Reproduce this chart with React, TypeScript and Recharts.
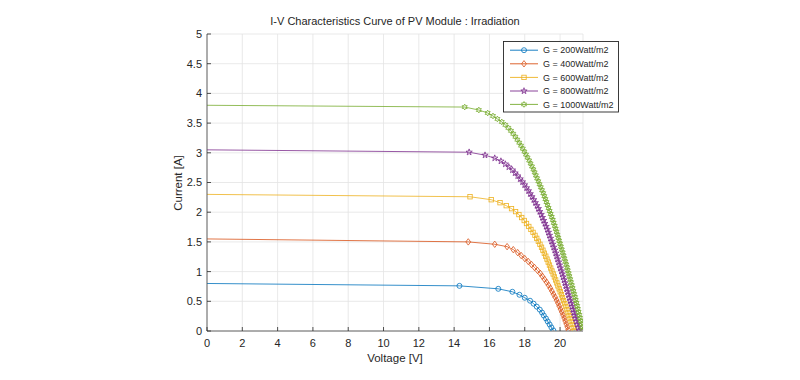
import React from 'react';
import { LineChart, Line, XAxis, YAxis, CartesianGrid, Legend, Customized } from 'recharts';

const FONT = '"Liberation Sans", Arial, Helvetica, sans-serif';
const TXT = '#262626';

const seriesNames = ['G = 200Watt/m2', 'G = 400Watt/m2', 'G = 600Watt/m2', 'G = 800Watt/m2', 'G = 1000Watt/m2'];
const seriesColors = ['#0072BD', '#D95319', '#EDB120', '#7E2F8E', '#77AC30'];
const seriesMarkers = ['circle', 'diamond', 'square', 'pentagram', 'hexagram'];

const xTicks = [0, 2, 4, 6, 8, 10, 12, 14, 16, 18, 20];
const yTicks = [0, 0.5, 1, 1.5, 2, 2.5, 3, 3.5, 4, 4.5, 5];
const titleText = 'I-V Characteristics Curve of PV Module : Irradiation';
const xLabel = 'Voltage [V]';
const yLabel = 'Current [A]';

// G = 200
const v200 = [0, 14.3, 16.5, 17.3, 17.7, 18.0, 18.3, 18.5, 18.68, 18.85, 18.98, 19.08, 19.2, 19.3, 19.41, 19.51, 19.62];
const i200 = [0.80, 0.76, 0.71, 0.66, 0.61, 0.56, 0.51, 0.46, 0.41, 0.36, 0.31, 0.26, 0.21, 0.16, 0.11, 0.06, 0.01];

// G = 400
const v400 = [0, 14.8, 16.3, 17.0, 17.35, 17.6, 17.8, 18.0, 18.2, 18.38, 18.55, 18.72, 18.88, 19.0, 19.12, 19.24,
  19.35, 19.45, 19.54, 19.63, 19.72, 19.8, 19.88, 19.95, 20.02, 20.1, 20.17, 20.23, 20.29, 20.35, 20.41, 20.46];
const i400 = [1.55, 1.50, 1.46, 1.42, 1.37, 1.32, 1.27, 1.22, 1.17, 1.12, 1.07, 1.02, 0.97, 0.92, 0.87, 0.82,
  0.77, 0.72, 0.67, 0.62, 0.57, 0.52, 0.47, 0.42, 0.37, 0.32, 0.27, 0.22, 0.17, 0.12, 0.07, 0.02];

// G = 600
const v600 = [0, 14.9, 16.1, 16.6, 16.95, 17.25, 17.48, 17.67, 17.83, 17.97, 18.1, 18.23, 18.35, 18.47, 18.58, 18.68,
  18.77, 18.86, 18.95, 19.03, 19.11, 19.19, 19.26, 19.33, 19.4, 19.47, 19.54, 19.61, 19.68, 19.75, 19.82, 19.88,
  19.95, 20.01, 20.08, 20.14, 20.2, 20.27, 20.33, 20.39, 20.45, 20.51, 20.57, 20.63, 20.69, 20.75, 20.81];
const i600 = [2.30, 2.26, 2.21, 2.16, 2.11, 2.06, 2.01, 1.96, 1.91, 1.86, 1.81, 1.76, 1.71, 1.66, 1.61, 1.56,
  1.51, 1.46, 1.41, 1.36, 1.31, 1.26, 1.21, 1.16, 1.11, 1.06, 1.01, 0.96, 0.91, 0.86, 0.81, 0.76,
  0.71, 0.66, 0.61, 0.56, 0.51, 0.46, 0.41, 0.36, 0.31, 0.26, 0.21, 0.16, 0.11, 0.06, 0.01];

// G = 800
const v800 = [0, 14.85, 15.75, 16.3, 16.65, 16.9, 17.1, 17.3, 17.45, 17.6, 17.74, 17.87, 17.99, 18.1, 18.21, 18.31,
  18.41, 18.51, 18.6, 18.69, 18.77, 18.85, 18.93, 19.0, 19.07, 19.14, 19.21, 19.28, 19.34, 19.4, 19.46, 19.52,
  19.58, 19.64, 19.7, 19.76, 19.81, 19.86, 19.92, 19.97, 20.02, 20.08, 20.13, 20.18, 20.23, 20.28, 20.33, 20.38,
  20.43, 20.48, 20.53, 20.58, 20.63, 20.68, 20.73, 20.78, 20.83, 20.88, 20.93, 20.98, 21.03, 21.08];
const i800 = [3.05, 3.01, 2.96, 2.91, 2.86, 2.81, 2.76, 2.71, 2.66, 2.61, 2.56, 2.51, 2.46, 2.41, 2.36, 2.31,
  2.26, 2.21, 2.16, 2.11, 2.06, 2.01, 1.96, 1.91, 1.86, 1.81, 1.76, 1.71, 1.66, 1.61, 1.56, 1.51,
  1.46, 1.41, 1.36, 1.31, 1.26, 1.21, 1.16, 1.11, 1.06, 1.01, 0.96, 0.91, 0.86, 0.81, 0.76, 0.71,
  0.66, 0.61, 0.56, 0.51, 0.46, 0.41, 0.36, 0.31, 0.26, 0.21, 0.16, 0.11, 0.06, 0.01];

// G = 1000
const v1000 = [0, 14.6, 15.4, 15.9, 16.2, 16.45, 16.7, 16.9, 17.07, 17.22, 17.35, 17.47, 17.58, 17.69, 17.79, 17.89,
  17.98, 18.07, 18.16, 18.25, 18.33, 18.41, 18.49, 18.56, 18.63, 18.7, 18.77, 18.84, 18.91, 18.98, 19.05, 19.11,
  19.17, 19.23, 19.29, 19.35, 19.41, 19.47, 19.53, 19.59, 19.64, 19.7, 19.75, 19.8, 19.85, 19.9, 19.95, 20.0,
  20.05, 20.1, 20.15, 20.2, 20.25, 20.3, 20.35, 20.4, 20.44, 20.49, 20.53, 20.58, 20.62, 20.67, 20.71, 20.76,
  20.8, 20.85, 20.89, 20.93, 20.97, 21.01, 21.05, 21.09, 21.13, 21.17, 21.21, 21.25, 21.29];
const i1000 = [3.80, 3.77, 3.72, 3.67, 3.62, 3.57, 3.52, 3.47, 3.42, 3.37, 3.32, 3.27, 3.22, 3.17, 3.12, 3.07,
  3.02, 2.97, 2.92, 2.87, 2.82, 2.77, 2.72, 2.67, 2.62, 2.57, 2.52, 2.47, 2.42, 2.37, 2.32, 2.27,
  2.22, 2.17, 2.12, 2.07, 2.02, 1.97, 1.92, 1.87, 1.82, 1.77, 1.72, 1.67, 1.62, 1.57, 1.52, 1.47,
  1.42, 1.37, 1.32, 1.27, 1.22, 1.17, 1.12, 1.07, 1.02, 0.97, 0.92, 0.87, 0.82, 0.77, 0.72, 0.67,
  0.62, 0.57, 0.52, 0.47, 0.42, 0.37, 0.32, 0.27, 0.22, 0.17, 0.12, 0.07, 0.02];

const build = (v: number[], cur: number[]) => v.map((x, k) => ({ v: x, i: cur[k] }));
const seriesData = [build(v200, i200), build(v400, i400), build(v600, i600), build(v800, i800), build(v1000, i1000)];

function starPoints(cx: number, cy: number, n: number, ro: number, ri: number) {
  const pts: string[] = [];
  for (let k = 0; k < 2 * n; k++) {
    const r = k % 2 === 0 ? ro : ri;
    const a = -Math.PI / 2 + (k * Math.PI) / n;
    pts.push(`${(cx + r * Math.cos(a)).toFixed(2)},${(cy + r * Math.sin(a)).toFixed(2)}`);
  }
  return pts.join(' ');
}

function MarkerShape({ type, cx, cy, color }: { type: string; cx: number; cy: number; color: string }) {
  const sw = 0.8;
  switch (type) {
    case 'circle':
      return <circle cx={cx} cy={cy} r={2.5} fill="none" stroke={color} strokeWidth={sw} />;
    case 'diamond':
      return <polygon points={`${cx},${cy - 3.2} ${cx + 2.4},${cy} ${cx},${cy + 3.2} ${cx - 2.4},${cy}`} fill="none" stroke={color} strokeWidth={sw} />;
    case 'square':
      return <rect x={cx - 2.2} y={cy - 2.2} width={4.4} height={4.4} fill="none" stroke={color} strokeWidth={sw} />;
    case 'pentagram':
      return <polygon points={starPoints(cx, cy, 5, 3.3, 1.3)} fill="none" stroke={color} strokeWidth={sw} />;
    case 'hexagram':
      return <polygon points={starPoints(cx, cy, 6, 2.9, 1.6)} fill="none" stroke={color} strokeWidth={sw} />;
    default:
      return null;
  }
}

const makeDot = (type: string, color: string, id: number) => (props: any) => {
  const { cx, cy, index } = props;
  const key = `d-${id}-${index}`;
  if (index === 0 || cx == null || cy == null) return <g key={key} />;
  return (
    <g key={key}>
      <MarkerShape type={type} cx={cx} cy={cy} color={color} />
    </g>
  );
};

const XTick = (props: any) => {
  const { x, y, payload } = props;
  return (
    <g>
      <line x1={x} x2={x} y1={y - 8} y2={y - 12} stroke={TXT} strokeWidth={0.8} />
      <text x={x} y={y} dy="0.71em" textAnchor="middle" fontSize={11} fill={TXT} fontFamily={FONT}>
        {payload.value}
      </text>
    </g>
  );
};

const YTick = (props: any) => {
  const { x, y, payload } = props;
  return (
    <g>
      <line x1={x + 5} x2={x + 9} y1={y} y2={y} stroke={TXT} strokeWidth={0.8} />
      <text x={x} y={y} dy="0.355em" textAnchor="end" fontSize={11} fill={TXT} fontFamily={FONT}>
        {payload.value}
      </text>
    </g>
  );
};

const LegendBox = () => {
  const rowsY = [9.2, 22.8, 36.4, 50, 63.4];
  return (
    <svg width={116} height={72} style={{ display: 'block' }}>
      <rect x={0.5} y={0.5} width={115} height={70.5} fill="#ffffff" stroke={TXT} strokeWidth={0.9} />
      {seriesNames.map((n, k) => (
        <g key={n}>
          <line x1={7} x2={35} y1={rowsY[k]} y2={rowsY[k]} stroke={seriesColors[k]} strokeWidth={0.9} />
          <MarkerShape type={seriesMarkers[k]} cx={21} cy={rowsY[k]} color={seriesColors[k]} />
          <text x={40} y={rowsY[k] + 3.2} fontSize={9} fill={TXT} fontFamily={FONT}>
            {n}
          </text>
        </g>
      ))}
    </svg>
  );
};

const Texts = () => (
  <g fontFamily={FONT} fill={TXT}>
    <text x={387} y={17} textAnchor="middle" fontSize={11}>
      {titleText}
    </text>
    <text x={387} y={354} textAnchor="middle" fontSize={11.5}>
      {xLabel}
    </text>
    <text transform="translate(174, 175) rotate(-90)" x={0} y={0} textAnchor="middle" fontSize={11.5}>
      {yLabel}
    </text>
  </g>
);

export default function App() {
  return (
    <div style={{ width: 784, height: 364, fontFamily: FONT }}>
      <LineChart width={784} height={364} margin={{ top: 26, right: 209, left: 169, bottom: 11 }}>
        <CartesianGrid stroke="#e3e3e3" strokeWidth={0.8} />
        <XAxis
          dataKey="v"
          type="number"
          domain={[0, 21.3]}
          ticks={xTicks}
          interval={0}
          allowDataOverflow
          tickSize={0}
          tickMargin={8}
          tickLine={false}
          height={30}
          axisLine={{ stroke: '#555555', strokeWidth: 0.9 }}
          tick={(p: any) => <XTick {...p} />}
        />
        <YAxis
          type="number"
          domain={[0, 5]}
          ticks={yTicks}
          interval={0}
          allowDataOverflow
          tickSize={0}
          tickMargin={5}
          tickLine={false}
          width={30}
          axisLine={{ stroke: '#555555', strokeWidth: 0.9 }}
          tick={(p: any) => <YTick {...p} />}
        />
        {seriesData.map((d, k) => (
          <Line
            key={seriesNames[k]}
            data={d}
            dataKey="i"
            name={seriesNames[k]}
            type="linear"
            stroke={seriesColors[k]}
            strokeWidth={0.8}
            dot={makeDot(seriesMarkers[k], seriesColors[k], k)}
            activeDot={false}
            isAnimationActive={false}
          />
        ))}
        <Legend
          layout="vertical"
          align="center"
          verticalAlign="middle"
          content={() => <LegendBox />}
          wrapperStyle={{ left: 495, top: 33, width: 116, height: 72 }}
        />
        <Customized component={Texts} />
      </LineChart>
    </div>
  );
}
